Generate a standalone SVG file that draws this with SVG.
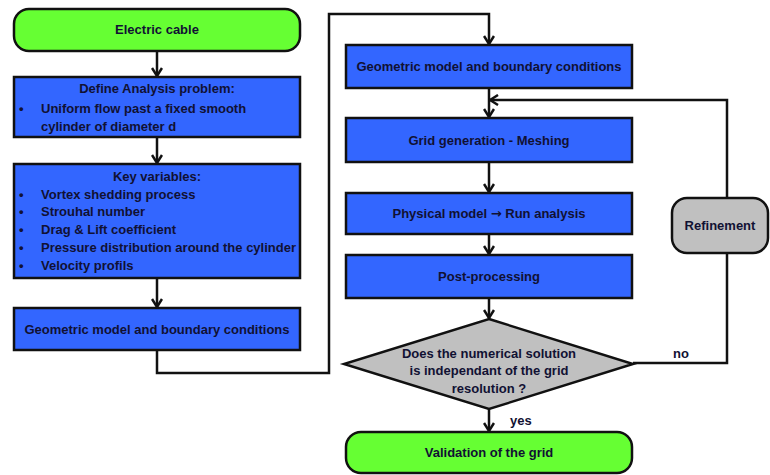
<svg xmlns="http://www.w3.org/2000/svg" width="770" height="475" viewBox="0 0 770 475">
<style>
text{font-family:"Liberation Sans",Arial,sans-serif;font-weight:bold;font-size:13px;fill:#111133}
.c{text-anchor:middle}
.blue{fill:#3366ff;stroke:#111;stroke-width:2.5}
.green{fill:#66ff33;stroke:#111;stroke-width:2.5}
.gray{fill:#c0c0c0;stroke:#111;stroke-width:2.5}
.ln{fill:none;stroke:#111;stroke-width:2.5}
</style>
<defs>
<marker id="av" viewBox="0 0 12 12" refX="11" refY="6" markerWidth="12" markerHeight="12" orient="auto" markerUnits="userSpaceOnUse">
<path d="M3,1 L11,6 L3,11" fill="none" stroke="#111" stroke-width="2.5"/>
</marker>
</defs>
<g id="connectors">
<path class="ln" d="M157,51 V76" marker-end="url(#av)"/>
<path class="ln" d="M157,137 V163" marker-end="url(#av)"/>
<path class="ln" d="M157,278 V307" marker-end="url(#av)"/>
<path class="ln" d="M157,350 V373 H329 V14 H489 V44" marker-end="url(#av)"/>
<path class="ln" d="M489,88 V117" marker-end="url(#av)"/>
<path class="ln" d="M727,198 V100 H490" marker-end="url(#av)"/>
<path class="ln" d="M489,162 V192" marker-end="url(#av)"/>
<path class="ln" d="M489,234 V254" marker-end="url(#av)"/>
<path class="ln" d="M489,298 V318" marker-end="url(#av)"/>
<path class="ln" d="M489,409 V431" marker-end="url(#av)"/>
<path class="ln" d="M633,363 H727 V253"/>
<text x="673" y="358">no</text>
<text x="510" y="425">yes</text>
</g>
<g id="electric-cable">
<rect class="green" x="14" y="9" width="286" height="42" rx="15"/>
<text class="c" x="157" y="34">Electric cable</text>
</g>
<g id="define-analysis">
<rect class="blue" x="14" y="77" width="286" height="60"/>
<text class="c" x="157" y="93">Define Analysis problem:</text>
<text x="19" y="113">•</text>
<text x="41" y="113">Uniform flow past a fixed smooth</text>
<text x="41" y="131">cylinder of diameter d</text>
</g>
<g id="key-variables">
<rect class="blue" x="14" y="164" width="286" height="114"/>
<text class="c" x="157" y="181">Key variables:</text>
<text x="19" y="199">•</text><text x="41" y="199">Vortex shedding process</text>
<text x="19" y="216">•</text><text x="41" y="216">Strouhal number</text>
<text x="19" y="234">•</text><text x="41" y="234">Drag &amp; Lift coefficient</text>
<text x="19" y="252">•</text><text x="41" y="252">Pressure distribution around the cylinder</text>
<text x="19" y="270">•</text><text x="41" y="270">Velocity profils</text>
</g>
<g id="geometric-left">
<rect class="blue" x="14" y="308" width="286" height="42"/>
<text class="c" x="157" y="334">Geometric model and boundary conditions</text>
</g>
<g id="geometric-right">
<rect class="blue" x="346" y="45" width="286" height="43"/>
<text class="c" x="489" y="71">Geometric model and boundary conditions</text>
</g>
<g id="grid-generation">
<rect class="blue" x="346" y="118" width="286" height="44"/>
<text class="c" x="489" y="145">Grid generation - Meshing</text>
</g>
<g id="physical-model">
<rect class="blue" x="346" y="193" width="286" height="41"/>
<text class="c" x="489" y="218">Physical model <tspan style="font-family:'DejaVu Sans',sans-serif">→</tspan> Run analysis</text>
</g>
<g id="post-processing">
<rect class="blue" x="346" y="255" width="286" height="43"/>
<text class="c" x="489" y="281">Post-processing</text>
</g>
<g id="decision">
<polygon class="gray" points="489,319 633,364 489,409 344,364"/>
<text class="c" x="489" y="358">Does the numerical solution</text>
<text class="c" x="489" y="375">is independant of the grid</text>
<text class="c" x="489" y="393">resolution ?</text>
</g>
<g id="refinement">
<rect class="gray" x="672" y="198" width="96" height="55" rx="15"/>
<text class="c" x="720" y="230">Refinement</text>
</g>
<g id="validation">
<rect class="green" x="346" y="432" width="286" height="41" rx="15"/>
<text class="c" x="489" y="457">Validation of the grid</text>
</g>
</svg>
